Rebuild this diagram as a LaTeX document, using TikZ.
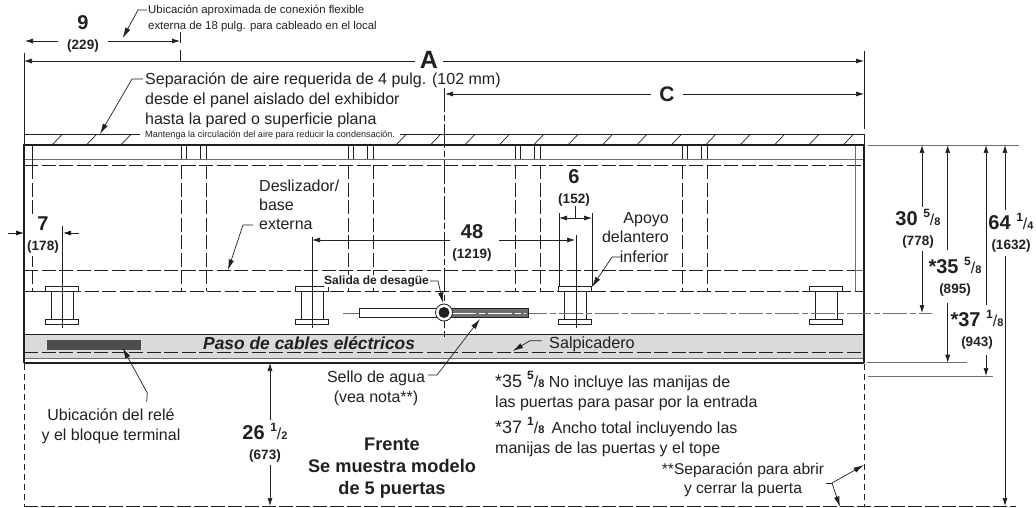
\documentclass[tikz,border=0pt]{standalone}
\usepackage{fontspec}
\setmainfont{Liberation Sans}
\usetikzlibrary{arrows.meta}
\definecolor{ink}{HTML}{231F20}
\definecolor{linegray}{HTML}{6E6E6E}
\definecolor{chanfill}{HTML}{D9DADB}
\newcommand{\fr}[2]{\raisebox{.42em}{\fontsize{12}{10}\selectfont #1}{\mdseries\fontsize{16}{10}\selectfont/}{\fontsize{11}{10}\selectfont #2}}
\newcommand{\dimtext}[2]{{\fontsize{20}{19}\selectfont #1}\\#2}
\tikzset{
  >={Latex[length=8pt,width=5pt]},
  every node/.style={text=ink,inner sep=0pt},
  dim/.style={draw=ink,line width=0.7pt},
  leader/.style={draw=ink,line width=0.7pt,-{Latex[length=10.5pt,width=5.5pt]}},
  part/.style={draw=ink,line width=0.8pt},
  hidden/.style={draw=ink,line width=0.8pt,dash pattern=on 14pt off 3.5pt},
  chain/.style={draw=linegray,line width=0.8pt,dash pattern=on 24pt off 3pt on 6pt off 3pt},
  dimlab/.style={align=center,font=\fontsize{13.5}{20}\selectfont\bfseries},
  note/.style={align=left,font=\fontsize{16}{20}\selectfont},
  noteb/.style={font=\fontsize{18.2}{22}\selectfont\bfseries,align=center},
}
\begin{document}
\begin{tikzpicture}[x=1pt,y=-1pt]
  \useasboundingbox (0,0) rectangle (1036,508);

  % wiring channel
  \fill[chanfill] (24,334) rectangle (864,358);
  \fill[ink!80] (47,340) rectangle (141,350);
  \draw[hidden] (24,352.5) -- (864,352.5);
  \draw[linegray,line width=1pt] (24,358) -- (864,358);
  \draw[ink,line width=1pt] (24,334) -- (864,334);
  \draw[ink,line width=1.5pt] (24,363) -- (864,363);

  % air gap strip
  \draw[part] (24,134.5) -- (140,134.5);
  \draw[part] (400,134.5) -- (864,134.5) -- (864,145);
  \draw[part] (24,134.5) -- (24,145);
  \foreach \k in {0,1,2,10,11,...,23}
    \draw[dim] ({52+34.4*\k},145) -- ({62+34.4*\k},134.5);

  % case
  \draw[linegray,line width=0.8pt] (24,159) -- (864,159);
  \draw[hidden] (24,165) -- (864,165);
  \draw[hidden] (24,270) -- (855,270);
  \draw[hidden] (32,291) -- (855,291);
  \draw[part] (32,145) -- (32,165);
  \draw[hidden] (32,165) -- (32,291);
  \draw[part] (32,291) -- (24,291);
  \draw[linegray,line width=0.8pt] (855,145) -- (855,291);
  \draw[linegray,line width=0.8pt] (855,270) -- (864,270);
  \draw[part] (855,291) -- (864,291);
  \foreach \px in {181,348,515,682} {
    \draw[part] (\px,145) -- (\px,159);
    \draw[part] ({\px+5},145) -- ({\px+5},159);
    \draw[part] ({\px+19.5},145) -- ({\px+19.5},159);
    \draw[part] ({\px+25},145) -- ({\px+25},159);
    \draw[hidden] (\px,165) -- (\px,291);
    \draw[hidden] ({\px+25},165) -- ({\px+25},291);
  }
  \draw[ink,line width=2pt] (24,363) -- (24,145) -- (864,145) -- (864,363);

  % legs
  \foreach \lx in {62,312,575,826} {
    \draw[part,fill=white] ({\lx-16.5},286) rectangle ({\lx+16.5},291);
    \draw[part,fill=white] ({\lx-16.5},319) rectangle ({\lx+16.5},324);
    \draw[part] ({\lx-11},291) -- ({\lx-11},319);
    \draw[part] ({\lx+11},291) -- ({\lx+11},319);
  }

  % center lines
  \draw[chain] (343,313) -- (932,313);
  \draw[chain,draw=ink] (444,88) -- (444,340);
  \draw[part] (62,226) -- (62,328);
  \draw[part] (312,237) -- (312,328);
  \draw[part] (576,235) -- (576,328);

  % drain and water seal
  \draw[part,fill=white] (359,308) rectangle (444,317);
  \draw[ink,line width=1pt,fill=linegray] (444,308) rectangle (528,317);
  \draw[white,line width=0.6pt,dash pattern=on 24pt off 3pt on 6pt off 3pt] (452,313) -- (526,313);
  \draw[part,fill=white] (444,312.5) circle (8.5);
  \fill[ink] (444,312.5) circle (5.5);

  % extension lines
  \draw[dim] (24,53) -- (24,134);
  \draw[dim] (864,51) -- (864,129);
  \draw[dim] (180,32) -- (180,43);
  \draw[dim] (180,50) -- (180,61);
  \draw[linegray,line width=0.8pt] (868,145) -- (1019,145);
  \draw[linegray,line width=0.8pt] (867,362.7) -- (967,362.7);
  \draw[linegray,line width=0.8pt] (868,376) -- (993,376);
  \draw[dim] (8,233) edge[->] (24,233);
  \draw[dim] (79,233) edge[->] (63,233);
  \draw[dim] (559,213) -- (559,286);
  \draw[dim] (592,213) -- (592,286);
  \draw[dim] (575,206) -- (575,218);
  \draw[dim,<->] (559,218) -- (592,218);
  \draw[hidden,dash pattern=on 6pt off 4pt] (864,364) -- (864,506.5);
  \draw[hidden,dash pattern=on 6pt off 4pt] (24,364) -- (24,506.5);
  \draw[hidden,dash pattern=on 14pt off 3pt] (24,506.5) -- (1016,506.5);

  % overall dimensions
  \node[font=\fontsize{25}{25}\selectfont\bfseries,minimum width=28pt] (dimA) at (429,60) {A};
  \draw[dim,<-] (24,61) -- (dimA.west |- 0,61);
  \draw[dim,->] (dimA.east |- 0,61) -- (864,61);
  \node[font=\fontsize{21}{21}\selectfont\bfseries,minimum width=32pt] (dimC) at (667,94) {C};
  \draw[dim,<-] (445,94) -- (dimC.west);
  \draw[dim,->] (dimC.east) -- (864,94);
  \node[dimlab,minimum width=50pt] (dimNine) at (83,34) {\dimtext{9}{(229)}};
  \draw[dim,<-] (25,41) -- (dimNine.west |- 0,41);
  \draw[dim,->] (dimNine.east |- 0,41) -- (180,41);
  \node[dimlab,minimum width=49pt] (dimFortyEight) at (472,243) {\dimtext{48}{(1219)}};
  \draw[dim,<-] (312,240) -- (450,240);
  \draw[dim,->] (499,240) -- (575,240);
  \node[dimlab,fill=white,minimum height=42pt] (dimSeven) at (43,235) {\dimtext{7}{(178)}};
  \node[dimlab] (dimSix) at (574,188) {\dimtext{6}{(152)}};

  % height dimensions
  \coordinate (topThirty) at (922,145);
  \coordinate (topThirtyFive) at (947.7,145);
  \coordinate (topThirtySeven) at (986,145);
  \coordinate (topSixtyFour) at (1005,145);
  \node[dimlab,minimum height=43pt] (dimThirty) at (918,229) {\dimtext{30 \fr{5}{8}}{(778)}};
  \draw[dim,<-] (topThirty) -- (topThirty |- dimThirty.north);
  \draw[dim,->] (topThirty |- dimThirty.south) -- (922,313);
  \node[dimlab,minimum height=52pt] (dimThirtyFive) at (955,276.5) {\dimtext{*35 \fr{5}{8}}{(895)}};
  \draw[dim,<-] (topThirtyFive) -- (topThirtyFive |- dimThirtyFive.north);
  \draw[dim,->] (topThirtyFive |- dimThirtyFive.south) -- (947.7,362.7);
  \node[dimlab,minimum height=50pt] (dimThirtySeven) at (977,330) {\dimtext{*37 \fr{1}{8}}{(943)}};
  \draw[dim,<-] (topThirtySeven) -- (topThirtySeven |- dimThirtySeven.north);
  \draw[dim,->] (topThirtySeven |- dimThirtySeven.south) -- (986,376);
  \node[dimlab,minimum height=45pt] (dimSixtyFour) at (1011,233) {\dimtext{64 \fr{1}{4}}{(1632)}};
  \draw[dim,<-] (topSixtyFour) -- (topSixtyFour |- dimSixtyFour.north);
  \draw[dim,->] (topSixtyFour |- dimSixtyFour.south) -- (1005,506);
  \node[dimlab,minimum height=45pt] (dimTwentySix) at (265,442.5) {\dimtext{26 \fr{1}{2}}{(673)}};
  \draw[dim,<-] (270,363) -- (270,363 |- dimTwentySix.north);
  \draw[dim,->] (270,363 |- dimTwentySix.south) -- (270,506);

  % labels with leaders
  \node[anchor=west,align=left,font=\fontsize{11.4}{16}\selectfont] (flexNote) at (148,18) {Ubicación aproximada de conexión flexible\\externa de 18 pulg. para cableado en el local};
  \draw[leader] (147,10) -- (138,10) -- (122.7,38);
  \node[anchor=west,align=left,font=\fontsize{16}{20}\selectfont] (airNote) at (145,100) {Separación de aire requerida de 4 pulg. (102 mm)\\desde el panel aislado del exhibidor\\hasta la pared o superficie plana};
  \draw[leader] (143,79) -- (132,79) -- (100,134);
  \node[anchor=west,font=\fontsize{9.1}{10}\selectfont] (airSmall) at (145,135) {Mantenga la circulación del aire para reducir la condensación.};
  \node[anchor=west,align=left,font=\fontsize{16}{19}\selectfont] (skidNote) at (259,205) {Deslizador/\\base\\externa};
  \draw[leader] (253,225) -- (243,225) -- (228,270);
  \node[anchor=east,align=right,font=\fontsize{16}{19.5}\selectfont] (apoyoNote) at (669,237.5) {Apoyo\\delantero\\inferior};
  \draw[leader] (622,257) -- (612,257) -- (592,287);
  \node[anchor=west,fill=white,font=\fontsize{12}{12}\selectfont\bfseries] (drainNote) at (324,281) {Salida de desagüe};
  \draw[leader] (430,281) -- (438,281) -- (443,303);
  \node[anchor=west,font=\fontsize{17.4}{18}\selectfont\bfseries\itshape] (channelNote) at (203,343) {Paso de cables eléctricos};
  \node[anchor=west,font=\fontsize{16.2}{18}\selectfont] (splashNote) at (549,344) {Salpicadero};
  \draw[leader] (541.7,340.7) -- (530,340.7) -- (512.7,351);
  \node[align=center,font=\fontsize{16}{20}\selectfont] (sealNote) at (376,388) {Sello de agua\\(vea nota**)};
  \draw[leader] (428,375) -- (437,375) -- (480,319);
  \node[align=center,font=\fontsize{16}{20}\selectfont] (relayNote) at (111,426) {Ubicación del relé\\y el bloque terminal};
  \draw[leader] (146.7,402) -- (147.3,393) -- (122.7,348);
  \node[noteb] (frontNote) at (392,468) {Frente\\Se muestra modelo\\de 5 puertas};

  % notes
  \node[note,anchor=west] (noteA) at (495,391) {{\fontsize{18}{20}\selectfont *35 \textbf{\fr{5}{8}}} No incluye las manijas de\\las puertas para pasar por la entrada};
  \node[note,anchor=west] (noteB) at (495,437) {{\fontsize{18}{20}\selectfont *37 \textbf{\fr{1}{8}}}\, Ancho total incluyendo las\\manijas de las puertas y el tope};
  \node[align=center,font=\fontsize{15.6}{19}\selectfont] (doorNote) at (743,479.5) {**Separación para abrir\\y cerrar la puerta};
  \coordinate (doorKink) at (832,483);
  \draw[dim] (826,483) -- (doorKink);
  \draw[leader] (doorKink) -- (864,465);
  \draw[leader] (doorKink) -- (840,507);
\end{tikzpicture}
\end{document}
